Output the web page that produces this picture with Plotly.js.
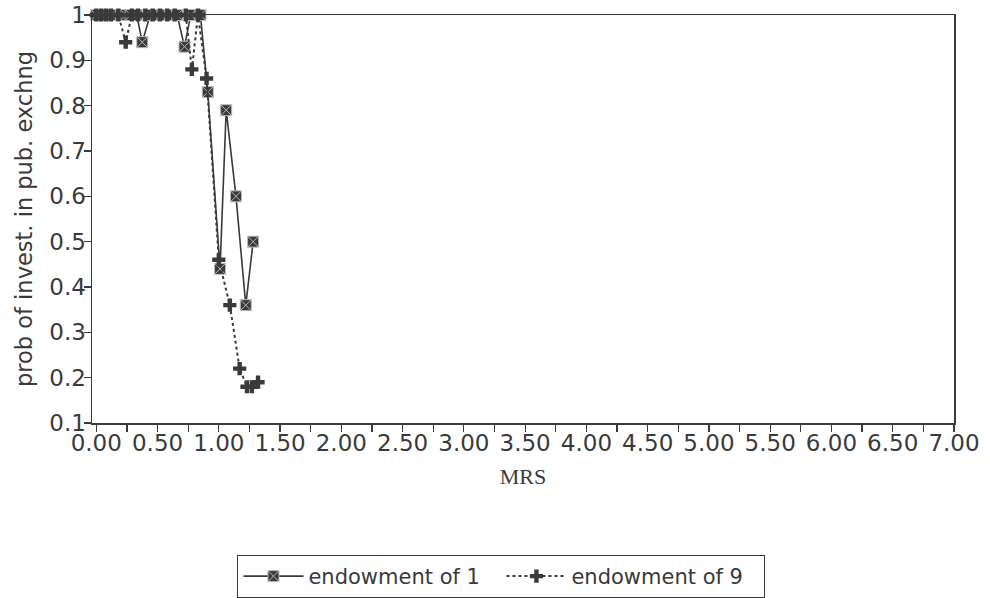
<!DOCTYPE html>
<html>
<head>
<meta charset="utf-8">
<script src="https://cdn.plot.ly/plotly-3.0.1.min.js"></script>
<style>html,body{margin:0;padding:0;background:#fff;}#chart{width:990px;height:598px;}</style>
</head>
<body>
<div id="chart"></div>
<script>
// Endowment of 1 (solid line)
var e1_x = [0, 0.04, 0.08, 0.12, 0.16, 0.2, 0.24, 0.28, 0.33, 0.375, 0.44, 0.49, 0.54, 0.6, 0.66, 0.72, 0.77, 0.85, 0.91, 1.01, 1.06, 1.14, 1.22, 1.28];
var e1_y = [1, 1, 1, 1, 1, 1, 1, 1, 1, 0.94, 1, 1, 1, 1, 1, 0.93, 1, 1, 0.83, 0.44, 0.79, 0.60, 0.36, 0.50];
// Endowment of 9 (dotted line)
var e9_x = [0, 0.04, 0.08, 0.12, 0.18, 0.24, 0.29, 0.34, 0.4, 0.46, 0.52, 0.58, 0.64, 0.73, 0.78, 0.83, 0.9, 1.0, 1.09, 1.17, 1.23, 1.27, 1.32];
var e9_y = [1, 1, 1, 1, 1, 0.94, 1, 1, 1, 1, 1, 1, 1, 1, 0.88, 1, 0.86, 0.46, 0.36, 0.22, 0.18, 0.18, 0.19];
var seriesNames = ["endowment of 1", "endowment of 9"];
var yTicks = [0.1, 0.2, 0.3, 0.4, 0.5, 0.6, 0.7, 0.8, 0.9, 1];
var xTicks = [0, 0.5, 1, 1.5, 2, 2.5, 3, 3.5, 4, 4.5, 5, 5.5, 6, 6.5, 7];
var xTickText = xTicks.map(function(v){ return v.toFixed(2); });

var ink = '#3a3a3a';
var traces = [
  {
    x: e1_x, y: e1_y, name: seriesNames[0], type: 'scatter', mode: 'lines+markers',
    line: {color: ink, width: 1.6},
    marker: {symbol: 'square-x', size: 11, color: ink, line: {color: '#bbbbbb', width: 1}},
    cliponaxis: false
  },
  {
    x: e9_x, y: e9_y, name: seriesNames[1], type: 'scatter', mode: 'lines+markers',
    line: {color: ink, width: 2, dash: 'dot'},
    marker: {symbol: 'cross', size: 11, color: ink, line: {width: 0}},
    cliponaxis: false
  }
];

var layout = {
  width: 990, height: 598,
  paper_bgcolor: '#ffffff', plot_bgcolor: '#ffffff',
  margin: {l: 92, r: 36, t: 15, b: 175},
  font: {family: 'DejaVu Sans, sans-serif', color: '#3a3a3a'},
  showlegend: true,
  legend: {
    orientation: 'h', x: 0.475, xanchor: 'center',
    yref: 'container', y: 0.072, yanchor: 'top',
    bgcolor: '#ffffff', bordercolor: '#3a3a3a', borderwidth: 1,
    font: {family: 'DejaVu Sans, sans-serif', size: 21, color: '#3a3a3a'},
    itemwidth: 60, entrywidth: 188, entrywidthmode: 'pixels'
  },
  xaxis: {
    range: [-0.035, 7],
    tickvals: xTicks, ticktext: xTickText,
    ticks: 'outside', ticklen: 7, tickwidth: 1.2, tickcolor: '#3a3a3a',
    ticklabelstandoff: -8,
    minor: {dtick: 0.25, ticks: 'outside', ticklen: 7, tickwidth: 1.2, tickcolor: '#3a3a3a'},
    showgrid: false, zeroline: false, automargin: false,
    showline: true, linecolor: '#3a3a3a', linewidth: 1.5, mirror: true,
    tickfont: {family: 'DejaVu Sans, sans-serif', size: 23, color: '#3a3a3a'},
    title: {text: 'MRS', font: {family: 'Liberation Serif, serif', size: 22, color: '#3a3a3a'}, standoff: 13}
  },
  yaxis: {
    range: [0.1, 1],
    tickvals: yTicks,
    ticks: 'outside', ticklen: 7, tickwidth: 1.2, tickcolor: '#3a3a3a',
    ticklabelstandoff: -7,
    showgrid: false, zeroline: false, automargin: false,
    showline: true, linecolor: '#3a3a3a', linewidth: 1.5, mirror: true,
    tickfont: {family: 'DejaVu Sans, sans-serif', size: 23, color: '#3a3a3a'},
    title: {text: 'prob of invest. in pub. exchng', font: {family: 'DejaVu Sans, sans-serif', size: 22.5, color: '#3a3a3a'}, standoff: 10}
  }
};

Plotly.newPlot('chart', traces, layout, {displayModeBar: false, staticPlot: true});
</script>
</body>
</html>
